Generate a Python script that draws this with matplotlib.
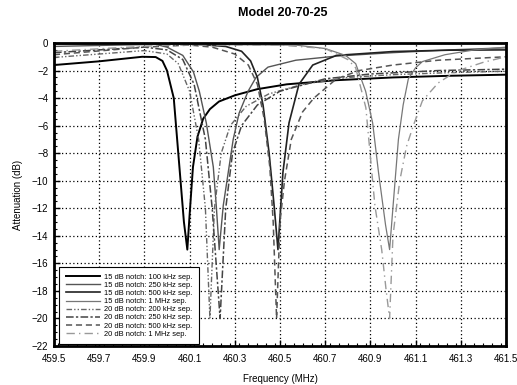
import numpy as np
import matplotlib
matplotlib.use("Agg")
import matplotlib.pyplot as plt
from matplotlib.ticker import MultipleLocator

plt.rcParams['font.family'] = ['Liberation Sans', 'DejaVu Sans']

# 15 dB notch curves
f_15_100k = [459.5, 459.7, 459.89, 459.95, 459.98, 460.0, 460.03, 460.055, 460.075, 460.09,
             460.1, 460.115, 460.135, 460.16, 460.19, 460.23, 460.3, 460.4, 460.53, 460.75, 461.0, 461.25, 461.5]
db_15_100k = [-1.6, -1.33, -1.0, -1.02, -1.3, -2.0, -4.0, -9.0, -13.0, -15.0,
              -12.5, -9.0, -6.8, -5.5, -4.8, -4.25, -3.8, -3.35, -3.0, -2.7, -2.5, -2.38, -2.3]

f_15_250k = [459.5, 459.78, 459.95, 460.0, 460.07, 460.117, 460.143, 460.174, 460.205, 460.218, 460.231,
             460.249, 460.271, 460.293, 460.319, 460.359, 460.394, 460.447, 460.57, 460.75, 461.0, 461.25, 461.5]
db_15_250k = [-0.25, -0.15, -0.1, -0.3, -0.9, -2.1, -3.5, -5.8, -9.0, -11.8, -15.0,
              -11.8, -9.4, -7.0, -5.1, -3.5, -2.5, -1.75, -1.25, -0.95, -0.7, -0.5, -0.35]

f_15_500k = [459.5, 460.1, 460.26, 460.33, 460.37, 460.4, 460.425, 460.452, 460.474, 460.491,
             460.513, 460.54, 460.584, 460.645, 460.75, 461.0, 461.25, 461.5]
db_15_500k = [-0.05, -0.05, -0.25, -0.6, -1.3, -2.5, -4.5, -8.0, -11.8, -15.0,
              -9.4, -5.8, -3.0, -1.6, -0.9, -0.62, -0.52, -0.5]

f_15_1m = [459.5, 460.57, 460.7, 460.79, 460.835, 460.879, 460.91, 460.936, 460.967, 460.985,
           461.002, 461.024, 461.045, 461.068, 461.1, 461.13, 461.23, 461.36, 461.5]
db_15_1m = [-0.05, -0.15, -0.4, -0.9, -1.5, -3.5, -5.8, -9.4, -13.2, -15.0,
            -11.5, -7.0, -4.5, -2.6, -1.8, -1.35, -0.85, -0.5, -0.3]

# 20 dB notch curves
f_20_200k = [459.5, 459.7, 459.9, 460.0, 460.05, 460.1, 460.14, 460.17, 460.19, 460.21,
             460.24, 460.28, 460.35, 460.45, 460.6, 460.8, 461.0, 461.25, 461.5]
db_20_200k = [-1.05, -0.8, -0.55, -0.8, -1.5, -3.5, -7.0, -12.0, -20.0, -12.0,
              -8.0, -6.0, -4.6, -3.7, -3.0, -2.5, -2.3, -2.15, -2.05]

f_20_250k = [459.5, 459.7, 459.9, 460.0, 460.07, 460.12, 460.17, 460.2, 460.235, 460.26,
             460.29, 460.33, 460.4, 460.5, 460.7, 460.9, 461.2, 461.5]
db_20_250k = [-0.7, -0.5, -0.3, -0.5, -1.2, -3.0, -7.0, -12.0, -20.0, -12.0,
              -8.0, -6.0, -4.5, -3.5, -2.6, -2.25, -2.0, -1.9]

f_20_500k = [459.5, 459.9, 460.1, 460.2, 460.3, 460.36, 460.4, 460.43, 460.455, 460.47, 460.485,
             460.5, 460.52, 460.55, 460.6, 460.65, 460.75, 460.85, 461.0, 461.2, 461.5]
db_20_500k = [-0.85, -0.3, -0.15, -0.3, -0.8, -1.6, -3.0, -5.5, -9.0, -13.0, -20.0,
              -13.0, -10.0, -7.0, -5.0, -4.0, -2.6, -2.0, -1.6, -1.25, -1.0]

f_20_1m = [459.5, 460.0, 460.5, 460.7, 460.8, 460.835, 460.88, 460.92, 460.95, 460.97, 460.985,
           461.0, 461.03, 461.06, 461.09, 461.13, 461.2, 461.28, 461.4, 461.5]
db_20_1m = [-0.6, -0.15, -0.15, -0.4, -1.2, -1.8, -4.7, -11.8, -15.0, -18.0, -20.0,
            -14.0, -10.0, -7.5, -6.0, -4.2, -2.9, -2.05, -1.4, -1.0]

labels = ["15 dB notch: 100 kHz sep.", "15 dB notch: 250 kHz sep.",
          "15 dB notch: 500 kHz sep.", "15 dB notch: 1 MHz sep.",
          "20 dB notch: 200 kHz sep.", "20 dB notch: 250 kHz sep.",
          "20 dB notch: 500 kHz sep.", "20 dB notch: 1 MHz sep."]

xticks = [459.5, 459.7, 459.9, 460.1, 460.3, 460.5, 460.7, 460.9, 461.1, 461.3, 461.5]
yticks = list(range(0, -23, -2))

fig = plt.figure(figsize=(5.17, 3.85), dpi=100)
ax = fig.add_axes([0.1044, 0.1013, 0.8743, 0.787])

ax.plot(f_15_100k, db_15_100k, color="black", lw=1.4, ls="-", label=labels[0])
ax.plot(f_15_250k, db_15_250k, color="#555555", lw=1.0, ls="-", label=labels[1])
ax.plot(f_15_500k, db_15_500k, color="#222222", lw=1.2, ls="-", label=labels[2])
ax.plot(f_15_1m, db_15_1m, color="#777777", lw=0.9, ls="-", label=labels[3])
ax.plot(f_20_200k, db_20_200k, color="#666666", lw=1.0, ls=(0, (4, 1.5, 1, 1.5, 1, 1.5)), label=labels[4])
ax.plot(f_20_250k, db_20_250k, color="#444444", lw=1.1, ls=(0, (5, 1.5, 1.5, 1.5)), label=labels[5])
ax.plot(f_20_500k, db_20_500k, color="#555555", lw=1.1, ls=(0, (4, 2.5)), label=labels[6])
ax.plot(f_20_1m, db_20_1m, color="#999999", lw=1.0, ls=(0, (6, 3, 1, 3)), label=labels[7])

ax.set_xlim(459.5, 461.5)
ax.set_ylim(-22, 0)
ax.set_xticks(xticks)
ax.set_xticklabels([f"{v:.1f}" for v in xticks])
ax.set_yticks(yticks)
ax.xaxis.set_minor_locator(MultipleLocator(0.04))
ax.yaxis.set_minor_locator(MultipleLocator(0.5))
ax.tick_params(which="both", direction="in", labelsize=7)
ax.tick_params(axis="x", pad=6)
ax.tick_params(axis="y", pad=4)
ax.tick_params(which="major", length=4, width=1)
ax.tick_params(which="minor", length=2.5, width=0.8)
ax.grid(True, which="major", color="black", ls=(0, (1, 2)), lw=0.9)
for s in ax.spines.values():
    s.set_linewidth(2)

ax.set_xlabel("Frequency (MHz)", fontsize=7, labelpad=7)
ax.set_ylabel("Attenuation (dB)", fontsize=7, labelpad=6)
fig.suptitle("Model 20-70-25", fontsize=9, fontweight="bold", x=0.547, y=0.982)

leg = ax.legend(loc="lower left", bbox_to_anchor=(0.012, 0.005), fontsize=5.4, handlelength=4.5,
                handletextpad=0.55, labelspacing=0.12, borderpad=0.9, borderaxespad=0.0,
                fancybox=False, framealpha=1, edgecolor="black")
leg.get_frame().set_linewidth(0.8)

fig.savefig("out.png", dpi=100)
